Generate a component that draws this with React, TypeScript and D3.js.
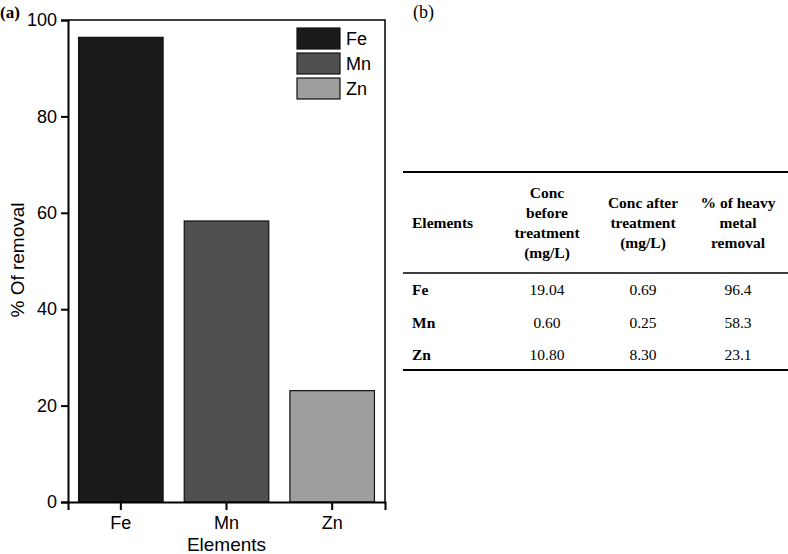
import * as d3 from "d3";
import React, { useEffect, useRef } from "react";

const elements = ["Fe", "Mn", "Zn"];
const removal = [96.4, 58.3, 23.1];
const concBefore = ["19.04", "0.60", "10.80"];
const concAfter = ["0.69", "0.25", "8.30"];
const barColors = ["#1a1a1a", "#505050", "#9e9e9e"];
const yTicks = [0, 20, 40, 60, 80, 100];

const headers = [
  ["Elements"],
  ["Conc", "before", "treatment", "(mg/L)"],
  ["Conc after", "treatment", "(mg/L)"],
  ["% of heavy", "metal", "removal"],
];

const W = 788;
const H = 554;
const sans = "'Liberation Sans', Arial, sans-serif";
const serif = "'Liberation Serif', 'Times New Roman', serif";

const App: React.FC = () => {
  const ref = useRef<SVGSVGElement>(null);

  useEffect(() => {
    if (!ref.current) return;
    const svg = d3.select(ref.current);
    svg.selectAll("*").remove();

    // ---- (a) bar chart ----
    const left = 68;
    const right = 385;
    const top = 20;
    const bottom = 502;

    const x = d3
      .scaleBand<string>()
      .domain(elements)
      .range([left, right])
      .paddingInner(0.2)
      .paddingOuter(0.1);
    const y = d3.scaleLinear().domain([0, 100]).range([bottom, top]);

    const g = svg.append("g");

    g.selectAll("rect.bar")
      .data(elements)
      .enter()
      .append("rect")
      .attr("class", "bar")
      .attr("x", (d) => x(d)!)
      .attr("y", (_, i) => y(removal[i]))
      .attr("width", x.bandwidth())
      .attr("height", (_, i) => y(0) - y(removal[i]))
      .attr("fill", (_, i) => barColors[i])
      .attr("stroke", "#111")
      .attr("stroke-width", 1.2);

    // frame
    g.append("path")
      .attr("d", `M${left},${top}H${right}V${bottom}`)
      .attr("fill", "none")
      .attr("stroke", "#000")
      .attr("stroke-width", 1.5);

    const yAxis = g
      .append("g")
      .attr("transform", `translate(${left},0)`)
      .call(d3.axisLeft(y).tickValues(yTicks).tickSize(7).tickPadding(4));
    const xAxis = g
      .append("g")
      .attr("transform", `translate(0,${bottom})`)
      .call(d3.axisBottom(x).tickSize(8).tickPadding(6));

    [yAxis, xAxis].forEach((a) => {
      a.attr("font-family", sans).attr("font-size", 18);
      a.select(".domain").attr("stroke-width", 2);
      a.selectAll(".tick line").attr("stroke-width", 2);
      a.selectAll("text").attr("fill", "#000");
    });

    g.append("text")
      .attr("transform", `translate(24,260) rotate(-90)`)
      .attr("text-anchor", "middle")
      .attr("font-family", sans)
      .attr("font-size", 19)
      .text("% Of removal");

    g.append("text")
      .attr("x", (left + right) / 2)
      .attr("y", 551)
      .attr("text-anchor", "middle")
      .attr("font-family", sans)
      .attr("font-size", 19)
      .text("Elements");

    g.append("text")
      .attr("x", 0)
      .attr("y", 18)
      .attr("font-family", serif)
      .attr("font-weight", "bold")
      .attr("font-size", 17)
      .text("(a)");

    // legend
    const legend = g
      .selectAll("g.legend")
      .data(elements)
      .enter()
      .append("g")
      .attr("class", "legend")
      .attr("transform", (_, i) => `translate(297,${28 + i * 25})`);
    legend
      .append("rect")
      .attr("width", 43)
      .attr("height", 21)
      .attr("fill", (_, i) => barColors[i])
      .attr("stroke", "#111")
      .attr("stroke-width", 1.2);
    legend
      .append("text")
      .attr("x", 49)
      .attr("y", 17)
      .attr("font-family", sans)
      .attr("font-size", 18)
      .text((d) => d);

    // ---- (b) table ----
    const t = svg.append("g");
    t.append("text")
      .attr("x", 413)
      .attr("y", 18)
      .attr("font-family", serif)
      .attr("font-size", 18)
      .text("(b)");

    const ruleX0 = 403;
    const ruleX1 = W;
    [172, 273, 370].forEach((ry, i) => {
      t.append("line")
        .attr("x1", ruleX0)
        .attr("x2", ruleX1)
        .attr("y1", ry)
        .attr("y2", ry)
        .attr("stroke", "#000")
        .attr("stroke-width", i === 1 ? 1.5 : 2);
    });

    const colX = [412, 547, 643, 738];
    const lineH = 20;
    const headerMid = 223;

    headers.forEach((lines, c) => {
      const y0 = headerMid - ((lines.length - 1) * lineH) / 2;
      lines.forEach((ln, k) => {
        t.append("text")
          .attr("x", colX[c])
          .attr("y", y0 + k * lineH)
          .attr("dy", "0.35em")
          .attr("text-anchor", c === 0 ? "start" : "middle")
          .attr("font-family", serif)
          .attr("font-weight", "bold")
          .attr("font-size", 15.5)
          .text(ln);
      });
    });

    const rowY = [290, 323, 355];
    elements.forEach((el, r) => {
      const cells = [el, concBefore[r], concAfter[r], removal[r].toFixed(1)];
      cells.forEach((v, c) => {
        t.append("text")
          .attr("x", colX[c])
          .attr("y", rowY[r])
          .attr("dy", "0.35em")
          .attr("text-anchor", c === 0 ? "start" : "middle")
          .attr("font-family", serif)
          .attr("font-weight", c === 0 ? "bold" : "normal")
          .attr("font-size", 15.5)
          .text(v);
      });
    });
  }, []);

  return (
    <svg
      ref={ref}
      width={W}
      height={H}
      style={{ position: "absolute", left: 0, top: 0, background: "#fff" }}
    ></svg>
  );
};

export default App;
